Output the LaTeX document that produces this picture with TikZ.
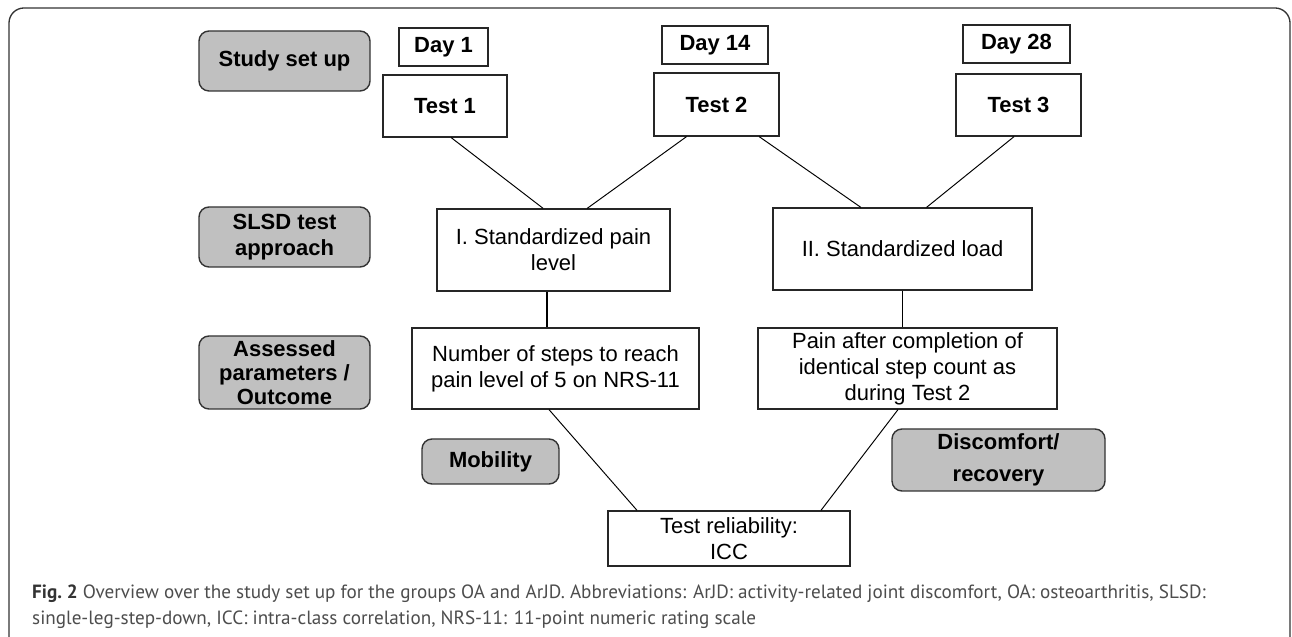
\documentclass[tikz,border=0pt]{standalone}
\usepackage{fontspec}
\setmainfont{Liberation Sans}
\newfontfamily\capfont{PT Sans}
\usepackage{tikz}

\definecolor{stagegrey}{HTML}{C0C0C0}
\definecolor{edgegrey}{HTML}{333333}
\definecolor{captiongrey}{HTML}{4D4D4D}

\begin{document}
\begin{tikzpicture}
            [
            box/.style={draw=black!85,line width=0.7pt,fill=white,align=center,
                inner sep=0pt,font={\fontsize{12.5}{14.8}\selectfont}},
            daybox/.style={box,font={\fontsize{12.5}{14.8}\selectfont\bfseries}},
            stage/.style={box,fill=stagegrey,draw=edgegrey,line width=0.8pt,
                rounded corners=0.2cm,font={\fontsize{12.5}{14.8}\selectfont\bfseries}},
            link/.style={black,line width=0.55pt},
            stem/.style={black,line width=1.1pt},
            captext/.style={anchor=base west,text=captiongrey,
                font={\capfont\fontsize{10.9}{14.8}\selectfont}},
            ]
            % Page and frame
            \useasboundingbox[fill=white] (0,0) rectangle (25.84,12.74);
            \draw[edgegrey,line width=0.75pt,rounded corners=0.3cm] (0.18,-0.3) rectangle (25.8,12.58);

            % Row headings
            \node[stage,minimum width=3.42cm,minimum height=1.2cm] (setup) at (5.69,11.52) {Study set up};
            \node[stage,minimum width=3.42cm,minimum height=1.2cm] (approach) at (5.69,8.0) {SLSD test\\approach};
            \node[stage,minimum width=3.42cm,minimum height=1.46cm,
                font={\fontsize{12.5}{13.6}\selectfont\bfseries}] (assessed) at (5.69,5.29) {Assessed\\parameters /\\Outcome};
            \node[stage,minimum width=2.74cm,minimum height=0.9cm] (mobility) at (9.81,3.51) {Mobility};
            \node[stage,minimum width=4.26cm,minimum height=1.24cm,
                font={\fontsize{12.5}{18}\selectfont\bfseries}] (discomfort) at (19.97,3.54) {Discomfort/\\recovery};

            % Days
            \node[daybox,minimum width=1.78cm,minimum height=0.76cm] (day1) at (8.87,11.80) {Day 1};
            \node[daybox,minimum width=2.12cm,minimum height=0.76cm] (day14) at (14.30,11.84) {Day 14};
            \node[daybox,minimum width=2.14cm,minimum height=0.76cm] (day28) at (20.33,11.86) {Day 28};

            % Tests
            \node[daybox,minimum width=2.48cm,minimum height=1.24cm] (test1) at (8.90,10.62) {Test 1};
            \node[daybox,minimum width=2.5cm,minimum height=1.26cm] (test2) at (14.33,10.65) {Test 2};
            \node[daybox,minimum width=2.5cm,minimum height=1.24cm] (test3) at (20.37,10.64) {Test 3};

            % Approaches
            \node[box,minimum width=4.66cm,minimum height=1.64cm] (painlvl) at (11.07,7.74) {I. Standardized pain\\level};
            \node[box,minimum width=5.18cm,minimum height=1.64cm] (load) at (18.05,7.76) {II. Standardized load};

            % Outcomes
            \node[box,minimum width=5.74cm,minimum height=1.62cm] (steps) at (11.11,5.37) {Number of steps to reach\\pain level of 5 on NRS-11};
            \node[box,minimum width=5.98cm,minimum height=1.62cm] (painafter) at (18.15,5.37) {Pain after completion of\\identical step count as\\during Test 2};
            \node[box,minimum width=4.84cm,minimum height=1.1cm] (icc) at (14.58,1.97) {Test reliability:\\ICC};

            % Tests to approaches
            \draw[link] (test1.-79) -- (painlvl.104);
            \draw[link] (test2.-133) -- (painlvl.51);
            \draw[link] (test2.-37) -- (load.135);
            \draw[link] (test3.-98) -- (load.60);

            % Approaches to outcomes
            \draw[stem] (painlvl.-99) -- (painlvl.-99 |- steps.north);
            \draw[stem] (load.south) -- (load.south |- painafter.north);

            % Outcomes to reliability
            \draw[link] (steps.-99) -- (icc.163);
            \draw[link] (painafter.-103) -- (icc.17);

            % Caption
            \node[captext] (caption1) at (0.52,0.76) {{\bfseries\color{black!80}Fig.~2} Overview over the study set up for the groups OA and ArJD. Abbreviations: ArJD: activity-related joint discomfort, OA: osteoarthritis, SLSD:};
            \node[captext] (caption2) at (0.52,0.24) {single-leg-step-down, ICC: intra-class correlation, NRS-11: 11-point numeric rating scale};

        \end{tikzpicture}
\end{document}
